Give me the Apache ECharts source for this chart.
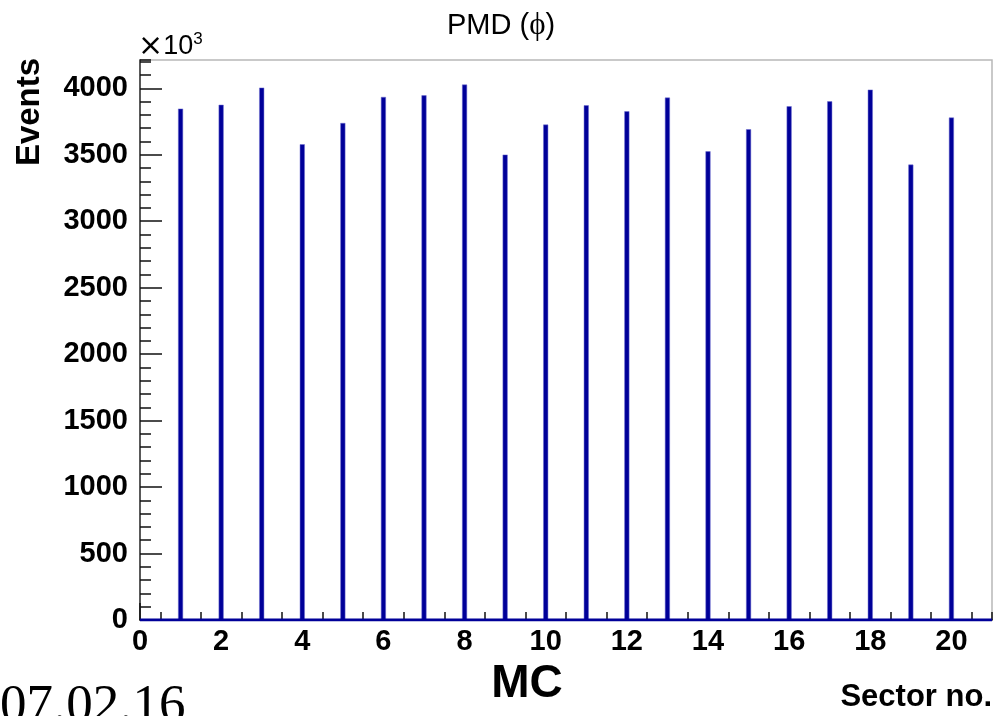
<!DOCTYPE html>
<html>
<head>
<meta charset="utf-8">
<script src="https://cdn.jsdelivr.net/npm/echarts@6/dist/echarts.min.js"></script>
<style>
html,body{margin:0;padding:0;background:#fff;}
#c{width:997px;height:716px;}
</style>
</head>
<body>
<div id="c"></div>
<script>
// Sector numbers and event counts (in units of 10^3)
var sectors = [1,2,3,4,5,6,7,8,9,10,11,12,13,14,15,16,17,18,19,20];
var events = [3847,3876,4005,3579,3739,3935,3947,4028,3501,3727,3872,3827,3930,3526,3692,3865,3902,3990,3426,3780];
var xRange = [0, 21];
var yRange = [0, 4213];
var baseline = [[xRange[0], 0], [xRange[1], 0]];

var barData = sectors.map(function (s, i) { return [s, events[i]]; });

var chart = echarts.init(document.getElementById('c'), null, {renderer: 'canvas'});
var boldFont = 'Liberation Sans, Arial, sans-serif';
function plain(v) { return String(v); }
chart.setOption({
  animation: false,
  backgroundColor: '#ffffff',
  grid: {left: 140, right: 5, top: 60, bottom: 96, show: true, borderColor: '#b8b8b8', borderWidth: 1.5, backgroundColor: 'transparent'},
  xAxis: [{
    type: 'value', min: xRange[0], max: xRange[1], interval: 2, position: 'bottom',
    axisLine: {show: true, onZero: false, lineStyle: {color: '#222', width: 1.5}},
    axisTick: {show: true, inside: true, length: 17, lineStyle: {color: '#111', width: 1.5}},
    splitLine: {show: false},
    axisLabel: {show: true, showMaxLabel: false, margin: 7, formatter: plain, color: '#000', fontFamily: boldFont, fontWeight: 'bold', fontSize: 29}
  }, {
    type: 'value', min: xRange[0], max: xRange[1], interval: 0.5, position: 'bottom',
    axisLine: {show: false, onZero: false},
    axisTick: {show: true, inside: true, length: 8, lineStyle: {color: '#111', width: 1.5}},
    splitLine: {show: false},
    axisLabel: {show: false}
  }],
  yAxis: [{
    type: 'value', min: yRange[0], max: yRange[1], interval: 500, position: 'left',
    axisLine: {show: true, onZero: false, lineStyle: {color: '#333', width: 1.5}},
    axisTick: {show: true, inside: true, length: 22, lineStyle: {color: '#111', width: 1.5}},
    splitLine: {show: false},
    axisLabel: {show: true, showMaxLabel: false, margin: 12, formatter: plain, color: '#000', fontFamily: boldFont, fontWeight: 'bold', fontSize: 29}
  }, {
    type: 'value', min: yRange[0], max: yRange[1], interval: 100, position: 'left',
    axisLine: {show: false, onZero: false},
    axisTick: {show: true, inside: true, length: 11, lineStyle: {color: '#111', width: 1.5}},
    splitLine: {show: false},
    axisLabel: {show: false}
  }],
  series: [{
    type: 'bar', xAxisIndex: 0, yAxisIndex: 0,
    data: barData, barWidth: 5,
    itemStyle: {color: '#000099', borderColor: '#6f6fd0', borderWidth: 0.5},
    z: 3
  }, {
    type: 'line', xAxisIndex: 0, yAxisIndex: 0,
    data: baseline, symbol: 'none',
    lineStyle: {color: '#000099', width: 3},
    z: 4
  }],
  graphic: [
    {type: 'text', x: 447, y: 26, z: 10, style: {
      text: '{a|PMD (}{b|ϕ}{a|)}', verticalAlign: 'middle', align: 'left',
      rich: {a: {fontFamily: 'Liberation Sans, Arial, sans-serif', fontSize: 29, fill: '#000'},
             b: {fontFamily: 'Liberation Serif, Times New Roman, serif', fontSize: 31, fill: '#000'}}
    }},
    {type: 'text', x: 138, y: 47, z: 10, style: {
      text: '{x|×}{a|10}{s|3}', verticalAlign: 'middle', align: 'left',
      rich: {x: {fontFamily: 'DejaVu Sans, sans-serif', fontSize: 30, fill: '#000'},
             a: {fontFamily: 'Liberation Sans, Arial, sans-serif', fontSize: 27, fill: '#000'},
             s: {fontFamily: 'Liberation Sans, Arial, sans-serif', fontSize: 17, fill: '#000', verticalAlign: 'top', padding: [0,0,16,0]}}
    }},
    {type: 'text', x: 30, y: 112, rotation: Math.PI / 2, z: 10, style: {
      text: 'Events', align: 'center', verticalAlign: 'middle',
      font: 'bold 33px Liberation Sans, Arial, sans-serif', fill: '#000'
    }},
    {type: 'text', x: 527, y: 684, z: 10, style: {
      text: 'MC', align: 'center', verticalAlign: 'middle',
      font: 'bold 46px Liberation Sans, Arial, sans-serif', fill: '#000'
    }},
    {type: 'text', x: 992, y: 697, z: 10, style: {
      text: 'Sector no.', align: 'right', verticalAlign: 'middle',
      font: 'bold 31px Liberation Sans, Arial, sans-serif', fill: '#000'
    }},
    {type: 'text', x: 0, y: 707, z: 10, style: {
      text: '07.02.16', align: 'left', verticalAlign: 'middle',
      font: '53px Liberation Serif, Times New Roman, serif', fill: '#000'
    }}
  ]
});
</script>
</body>
</html>
